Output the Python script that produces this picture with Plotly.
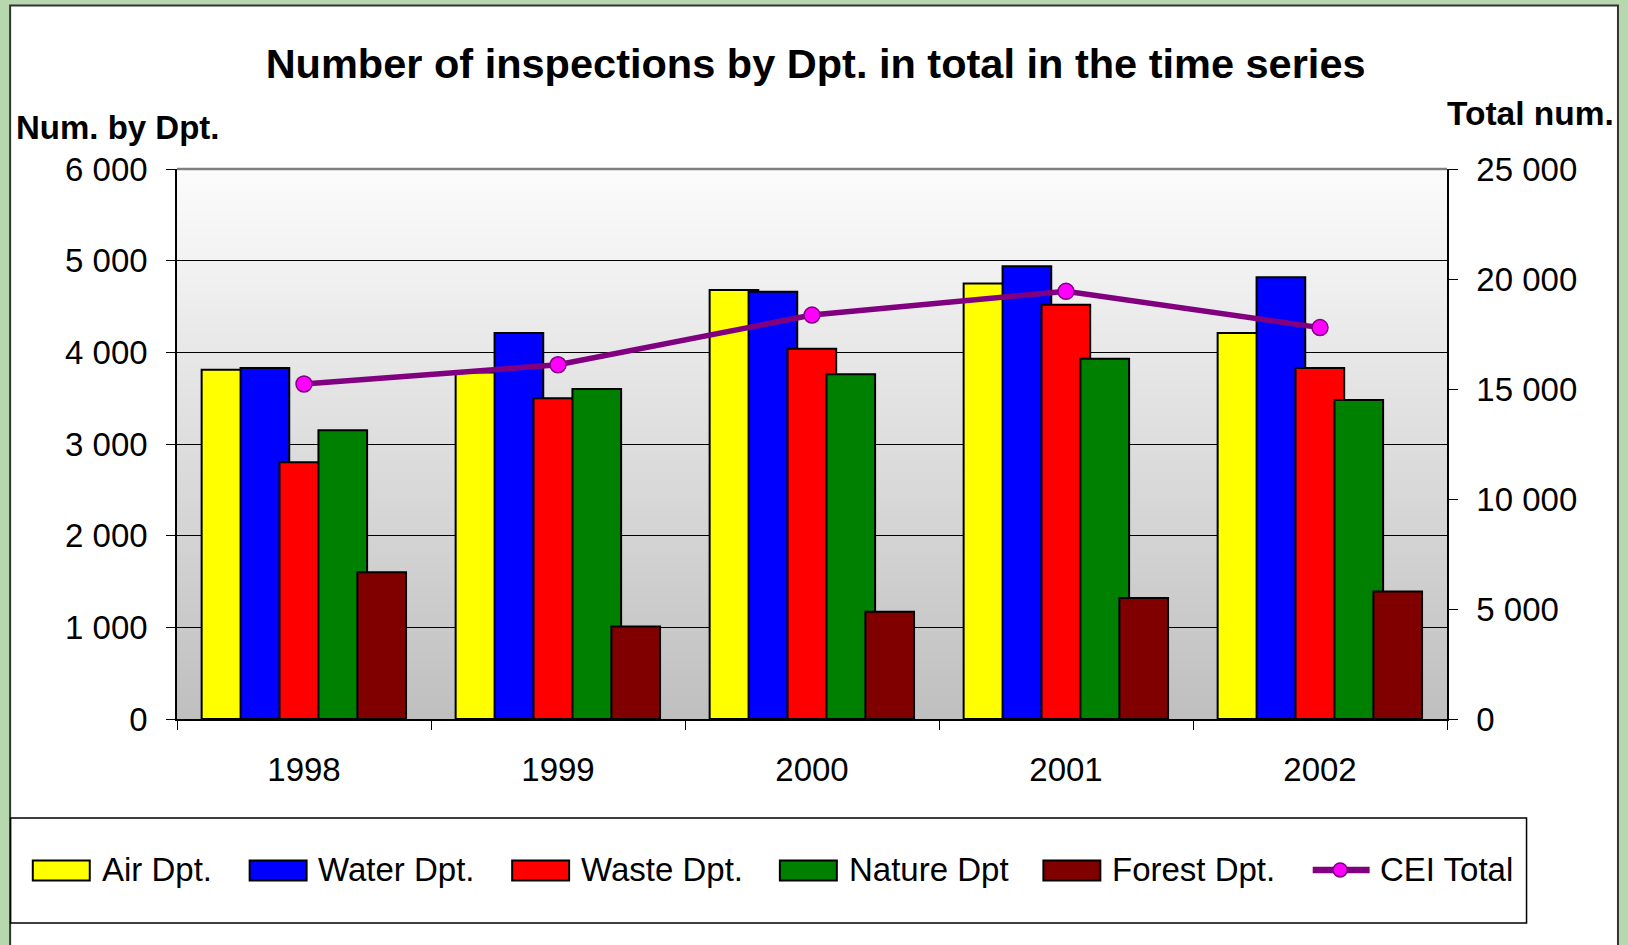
import plotly.graph_objects as go

years = ["1998", "1999", "2000", "2001", "2002"]
air = [3810, 3780, 4680, 4750, 4210]
water = [3830, 4210, 4660, 4940, 4820]
waste = [2800, 3500, 4040, 4520, 3830]
nature = [3150, 3600, 3760, 3930, 3480]
forest = [1600, 1010, 1170, 1320, 1390]
cei_total = [15230, 16100, 18360, 19440, 17790]

series_names = ["Air Dpt.", "Water Dpt.", "Waste Dpt.", "Nature Dpt", "Forest Dpt."]
series_values = [air, water, waste, nature, forest]
series_colors = ["#FFFF00", "#0000FF", "#FF0000", "#008000", "#800000"]
total_name = "CEI Total"

W, H = 1628, 945
L, R, T, B = 176.5, 1447.4, 169.2, 719.5
pw, ph = R - L, B - T

def px(x):
    return (x - L) / pw

def py(y):
    return (B - y) / ph

FONT = "Liberation Sans, Arial, sans-serif"

fig = go.Figure()

bar_w = 0.1916
start = -0.403
for i, (name, vals, col) in enumerate(zip(series_names, series_values, series_colors)):
    fig.add_trace(go.Bar(
        x=years, y=vals, name=name, showlegend=False,
        marker=dict(color=col, line=dict(color="#000000", width=2)),
        width=bar_w, offset=start + i * 0.8 * bar_w,
        yaxis="y",
    ))

fig.add_trace(go.Scatter(
    x=years, y=cei_total, name=total_name, mode="lines+markers", showlegend=False,
    line=dict(color="#800080", width=5.5),
    marker=dict(color="#FF00FF", size=16, line=dict(color="#800080", width=1.5)),
    yaxis="y2",
))

shapes = []
# white chart panel
shapes.append(dict(type="rect", xref="paper", yref="paper", layer="below",
                   x0=px(9.5), x1=px(1618.5), y0=py(960), y1=py(5.5),
                   fillcolor="#FFFFFF", line=dict(color="#333333", width=2)))
# plot-area gradient (stacked bands, each reaching the top to avoid seams)
n = 120
top = (252, 252, 252)
bot = (191, 191, 191)
for k in range(n):
    f = (k + 0.5) / n
    c = tuple(round(bot[j] + (top[j] - bot[j]) * f) for j in range(3))
    shapes.append(dict(type="rect", xref="x domain", yref="y domain", layer="below",
                       x0=0, x1=1, y0=k / n, y1=1,
                       fillcolor="rgb(%d,%d,%d)" % c, line=dict(width=0)))
# top border of plot area (gray)
shapes.append(dict(type="line", xref="x domain", yref="y domain", layer="above",
                   x0=0, x1=1, y0=1, y1=1, line=dict(color="#808080", width=2.5)))

annotations = [
    dict(text="Num. by Dpt.", xref="paper", yref="paper", x=px(13.5), y=py(128),
         xanchor="left", yanchor="middle", showarrow=False,
         font=dict(family=FONT, size=33, color="#000000", weight="bold")),
    dict(text="Total num.", xref="paper", yref="paper", x=px(1617), y=py(114),
         xanchor="right", yanchor="middle", showarrow=False,
         font=dict(family=FONT, size=33.5, color="#000000", weight="bold")),
]

# custom legend (box, swatches, labels)
leg_font = dict(family=FONT, size=33, color="#000000")
shapes.append(dict(type="rect", xref="paper", yref="paper", layer="above",
                   x0=px(10), x1=px(1527), y0=py(923.5), y1=py(818.5),
                   fillcolor="#FFFFFF", line=dict(color="#000000", width=1.5)))
swatch_x = [32.2, 249.2, 511.9, 779.8, 1043.5]
label_x = [99.0, 316.0, 578.7, 846.6, 1110.3]
sw_y0, sw_y1, lab_y = 861, 881, 870
for name, col, sx, lx in zip(series_names, series_colors, swatch_x, label_x):
    shapes.append(dict(type="rect", xref="paper", yref="paper", layer="above",
                       x0=px(sx), x1=px(sx + 57), y0=py(sw_y1), y1=py(sw_y0),
                       fillcolor=col, line=dict(color="#000000", width=2)))
    annotations.append(dict(text=name, xref="paper", yref="paper", x=px(lx), y=py(lab_y),
                            xanchor="left", yanchor="middle", showarrow=False,
                            font=leg_font))
# CEI Total legend entry
shapes.append(dict(type="line", xref="paper", yref="paper", layer="above",
                   x0=px(1313), x1=px(1370), y0=py(870.5), y1=py(870.5),
                   line=dict(color="#800080", width=6.5)))
shapes.append(dict(type="circle", xref="paper", yref="paper", layer="above",
                   x0=px(1333.5), x1=px(1347.5), y0=py(877.5), y1=py(863.5),
                   fillcolor="#FF00FF", line=dict(color="#800080", width=1.5)))
annotations.append(dict(text=total_name, xref="paper", yref="paper", x=px(1378.2), y=py(lab_y),
                        xanchor="left", yanchor="middle", showarrow=False, font=leg_font))

axis_font = dict(family=FONT, size=33, color="#000000")

fig.update_layout(
    width=W, height=H,
    margin=dict(l=L, r=W - R, t=T, b=H - B, pad=0),
    paper_bgcolor="#B7D7AF",
    plot_bgcolor="rgba(0,0,0,0)",
    barmode="overlay",
    separators=". ",
    showlegend=False,
    title=dict(text="Number of inspections by Dpt. in total in the time series",
               x=815.6 / W, xanchor="center", xref="container",
               y=1 - 63 / H, yanchor="middle", yref="container",
               font=dict(family=FONT, size=41.5, color="#000000", weight="bold")),
    xaxis=dict(type="category", showline=True, linecolor="#000000", linewidth=1.5,
               ticks="outside", tickson="boundaries", ticklen=9, tickcolor="#000000",
               tickwidth=1, tickfont=axis_font, showgrid=False, zeroline=False,
               ticklabelstandoff=21),
    yaxis=dict(range=[0, 6000], dtick=1000, tickformat=",d", showline=True,
               linecolor="#000000", linewidth=1.5, ticks="outside", ticklen=9,
               tickcolor="#000000", tickfont=axis_font, showgrid=True,
               gridcolor="#000000", gridwidth=1, zeroline=False,
               ticklabelstandoff=12),
    yaxis2=dict(range=[0, 25000], dtick=5000, tickformat=",d", overlaying="y",
                side="right", showline=True, linecolor="#000000", linewidth=1.5,
                ticks="outside", ticklen=9, tickcolor="#000000", tickfont=axis_font,
                showgrid=False, zeroline=False, ticklabelstandoff=12),
    shapes=shapes,
    annotations=annotations,
)

fig.write_html("out.html", config={"displayModeBar": False},
               post_script="document.body.style.margin='0px';")
